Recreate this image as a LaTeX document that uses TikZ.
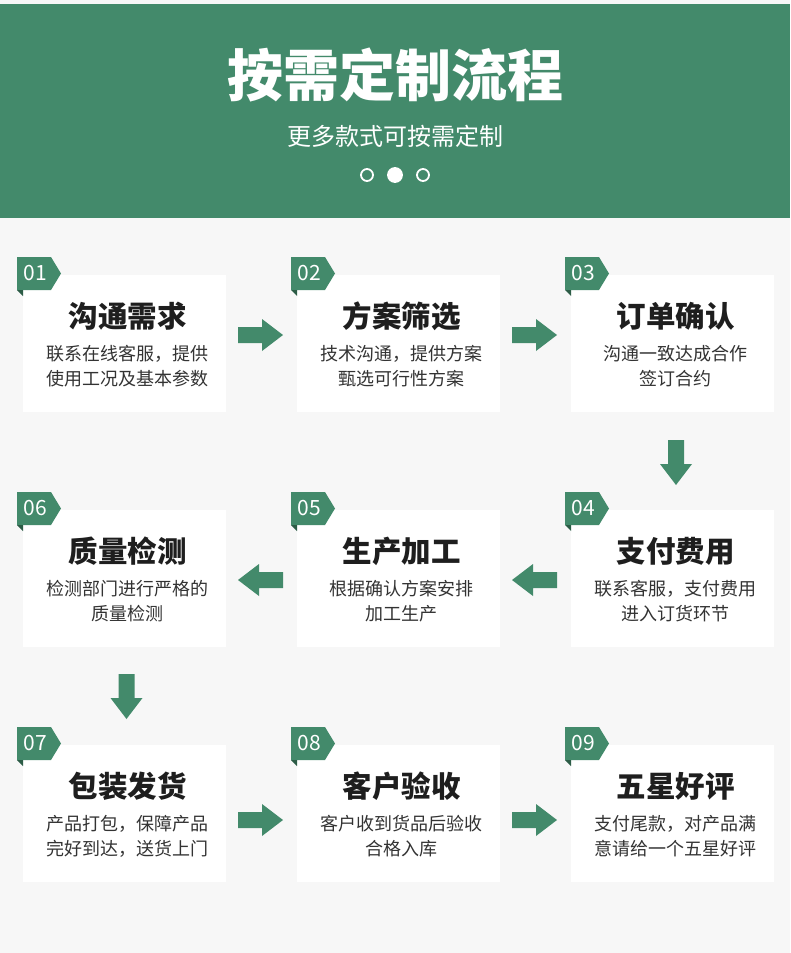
\documentclass[tikz,border=0pt]{standalone}
\usepackage{fontspec}
\setmainfont{Noto Sans CJK SC}
\usepackage{tikz}
\usetikzlibrary{positioning,calc}
\usepackage{xcolor}
\definecolor{flowgreen}{HTML}{438A6B}
\definecolor{folddark}{HTML}{2C5C46}
\definecolor{pagebg}{HTML}{F7F7F7}
\definecolor{headtext}{HTML}{1E1E1E}
\definecolor{bodytext}{HTML}{333333}

\begin{document}
\begin{tikzpicture}[
    x=1pt, y=-1pt,
    every node/.style={inner sep=0pt, outer sep=0pt},
    card/.style={rectangle, fill=white, minimum width=203pt, minimum height=137pt},
    cardtitle/.style={font=\fontsize{29.5}{32}\selectfont\bfseries, text=headtext},
    cardline/.style={font=\fontsize{18}{20}\selectfont, text=bodytext},
    tabnum/.style={font=\fontsize{21}{22}\selectfont, text=white},
    dot/.style={circle, draw=white, line width=1.8pt, minimum size=12pt},
    flowarrow/.pic={\fill[flowgreen] (0pt,-8pt) -- (24pt,-8pt) -- (24pt,-16pt) -- (45pt,0pt) -- (24pt,16pt) -- (24pt,8pt) -- (0pt,8pt) -- cycle;}
]

% Page and header band
\useasboundingbox (0,0) rectangle (790,953);
\fill[pagebg] (0,0) rectangle (790,953);
\fill[flowgreen] (0,4) rectangle (790,218);

% Title
\node[font=\fontsize{56}{60}\selectfont\bfseries, text=white] (title) at (395,75) {按需定制流程};
\node[font=\fontsize{24}{26}\selectfont, text=white] (subtitle) at (395,136) {更多款式可按需定制};
\node[dot] (dotl) at (367,175) {};
\node[dot, fill=white, minimum size=14pt] (dotm) at (395,175) {};
\node[dot] (dotr) at (423,175) {};

% Cards with number tabs
\foreach \n/\col/\row/\head/\linea/\lineb in {
    01/0/0/沟通需求/联系在线客服，提供/使用工况及基本参数,
    02/1/0/方案筛选/技术沟通，提供方案/甄选可行性方案,
    03/2/0/订单确认/沟通一致达成合作/签订合约,
    04/2/1/支付费用/联系客服，支付费用/进入订货环节,
    05/1/1/生产加工/根据确认方案安排/加工生产,
    06/0/1/质量检测/检测部门进行严格的/质量检测,
    07/0/2/包装发货/产品打包，保障产品/完好到达，送货上门,
    08/1/2/客户验收/客户收到货品后验收/合格入库,
    09/2/2/五星好评/支付尾款，对产品满/意请给一个五星好评} {
    \pgfmathsetmacro{\xc}{124.5 + 274*\col}
    \pgfmathsetmacro{\yc}{343.5 + 235*\row}
    \node[card] (card\n) at (\xc,\yc) {};
    \node[cardtitle] (head\n) at ([xshift=3pt,yshift=-41pt]card\n.north) {\head};
    \node[cardline] (linea\n) at ([xshift=3pt,yshift=-79pt]card\n.north) {\linea};
    \node[cardline] (lineb\n) at ([xshift=3pt,yshift=-104pt]card\n.north) {\lineb};
    % tab
    \fill[flowgreen] ([xshift=-6pt,yshift=18pt]card\n.north west) -- ++(34pt,0pt) -- ++(10pt,-16.5pt)
        -- ++(-10pt,-16.5pt) -- ++(-34pt,0pt) -- cycle;
    \fill[folddark] ([xshift=-6pt,yshift=-15pt]card\n.north west) -- ++(6pt,0pt) -- ++(0pt,-6pt) -- cycle;
    \node[tabnum] (num\n) at ([xshift=12pt,yshift=2pt]card\n.north west) {\n};
}

% Arrows between the steps
\pic at ([xshift=12pt,yshift=8.5pt]card01.east) {flowarrow};
\pic at ([xshift=12pt,yshift=8.5pt]card02.east) {flowarrow};
\pic[rotate=-90] at ([xshift=3.5pt,yshift=-28pt]card03.south) {flowarrow};
\pic[rotate=180] at ([xshift=-14pt,yshift=-1.5pt]card04.west) {flowarrow};
\pic[rotate=180] at ([xshift=-14pt,yshift=-1.5pt]card05.west) {flowarrow};
\pic[rotate=-90] at ([xshift=2pt,yshift=-27pt]card06.south) {flowarrow};
\pic at ([xshift=12pt,yshift=-6.5pt]card07.east) {flowarrow};
\pic at ([xshift=12pt,yshift=-6.5pt]card08.east) {flowarrow};

\end{tikzpicture}
\end{document}
